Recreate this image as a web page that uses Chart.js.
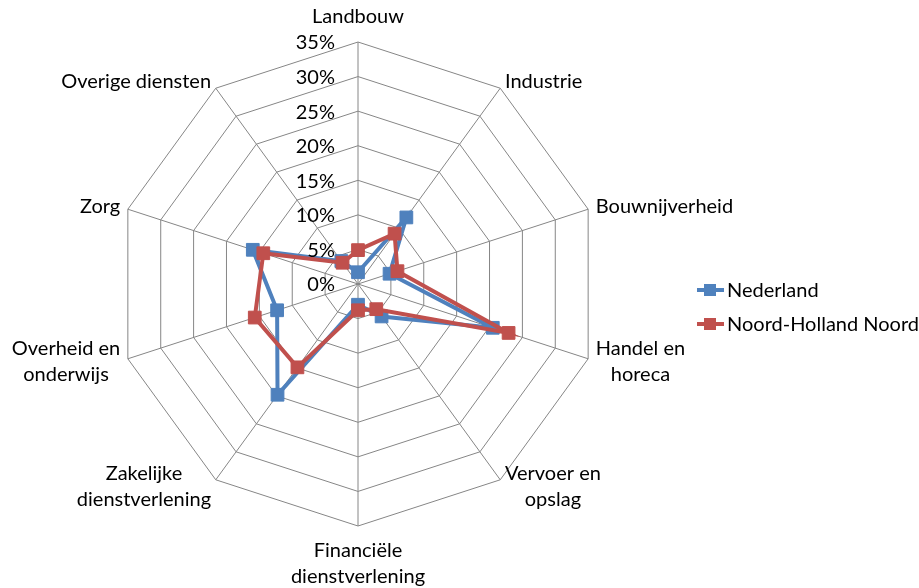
<!DOCTYPE html>
<html>
<head>
<meta charset="utf-8">
<script src="https://cdn.jsdelivr.net/npm/chart.js@4/dist/chart.umd.min.js"></script>
<style>
  html, body { margin: 0; padding: 0; background: #fff; }
  #wrap { width: 919px; height: 588px; position: relative; }
</style>
</head>
<body>
<div id="wrap"><canvas id="c" width="919" height="588"></canvas></div>
<script>
const categories = [
  ["Landbouw"],
  ["Industrie"],
  ["Bouwnijverheid"],
  ["Handel en", "horeca"],
  ["Vervoer en", "opslag"],
  ["Financiële", "dienstverlening"],
  ["Zakelijke", "dienstverlening"],
  ["Overheid en", "onderwijs"],
  ["Zorg"],
  ["Overige diensten"]
];
const seriesNames = ["Nederland", "Noord-Holland Noord"];
const nederland = [1.7, 11.9, 4.8, 20.5, 5.8, 3.0, 19.8, 12.3, 16.0, 4.1];
const noordHollandNoord = [4.9, 9.0, 6.0, 22.9, 4.5, 3.8, 14.9, 15.7, 14.4, 3.8];
const tickValues = [0, 5, 10, 15, 20, 25, 30, 35];
const tickLabels = ["0%", "5%", "10%", "15%", "20%", "25%", "30%", "35%"];

const BLUE = "#4F81BD";
const RED = "#C0504D";
const FONT = "Lato, 'Open Sans', sans-serif";
const FONT_SIZE = 20;

const overlay = {
  id: "overlay",
  afterDraw(chart) {
    const ctx = chart.ctx;
    const scale = chart.scales.r;
    ctx.save();
    ctx.fillStyle = "#000";
    ctx.font = FONT_SIZE + "px " + FONT;
    // tick labels
    ctx.textAlign = "right";
    ctx.textBaseline = "middle";
    tickValues.forEach((v, i) => {
      const y = scale.yCenter - scale.getDistanceFromCenterForValue(v);
      ctx.fillText(tickLabels[i], scale.xCenter - 23, y + 1);
    });
    // point labels
    const lh = 26;
    categories.forEach((lines, i) => {
      const p = scale.getPointPosition(i, scale.drawingArea + 8);
      const dx = p.x - scale.xCenter;
      const dy = p.y - scale.yCenter;
      let widths = lines.map(t => ctx.measureText(t).width);
      const bw = Math.max(...widths);
      let cx;
      if (Math.abs(dx) < 2) cx = p.x;
      else if (dx > 0) cx = p.x + bw / 2;
      else cx = p.x - bw / 2;
      let top;
      const bh = lines.length * lh;
      if (Math.abs(dx) < 2 && dy < 0) top = p.y - 4 - bh;
      else if (Math.abs(dx) < 2 && dy > 0) top = p.y + 4;
      else top = p.y - bh / 2;
      ctx.textAlign = "center";
      lines.forEach((t, k) => {
        ctx.fillText(t, cx, top + lh * k + lh / 2);
      });
    });
    // legend
    const items = [[seriesNames[0], BLUE, 290], [seriesNames[1], RED, 324]];
    items.forEach(([name, col, y]) => {
      ctx.strokeStyle = col;
      ctx.lineWidth = 4;
      ctx.beginPath();
      ctx.moveTo(697, y);
      ctx.lineTo(724, y);
      ctx.stroke();
      ctx.fillStyle = col;
      ctx.fillRect(704, y - 6, 12, 12);
      ctx.fillStyle = "#000";
      ctx.textAlign = "left";
      ctx.textBaseline = "middle";
      ctx.fillText(name, 727, y + 1);
    });
    ctx.restore();
  }
};

new Chart(document.getElementById("c"), {
  type: "radar",
  data: {
    labels: categories,
    datasets: [
      {
        label: seriesNames[0],
        data: nederland,
        borderColor: BLUE,
        backgroundColor: BLUE,
        borderWidth: 4,
        fill: false,
        pointStyle: "rect",
        pointRadius: 9,
        pointBorderWidth: 1,
        pointBackgroundColor: BLUE,
        pointBorderColor: BLUE,
        tension: 0,
        order: 2
      },
      {
        label: seriesNames[1],
        data: noordHollandNoord,
        borderColor: RED,
        backgroundColor: RED,
        borderWidth: 4,
        fill: false,
        pointStyle: "rect",
        pointRadius: 9,
        pointBorderWidth: 1,
        pointBackgroundColor: RED,
        pointBorderColor: RED,
        tension: 0,
        order: 1
      }
    ]
  },
  options: {
    responsive: false,
    animation: false,
    layout: { padding: { left: 116, right: 319, top: 42, bottom: 62 } },
    plugins: {
      legend: { display: false },
      tooltip: { enabled: false }
    },
    scales: {
      r: {
        min: 0,
        max: 35,
        ticks: { display: false, stepSize: 5 },
        pointLabels: { display: false },
        grid: { color: "#868686", lineWidth: 1, circular: false },
        angleLines: { color: "#868686", lineWidth: 1 }
      }
    }
  },
  plugins: [overlay]
});
</script>
</body>
</html>
